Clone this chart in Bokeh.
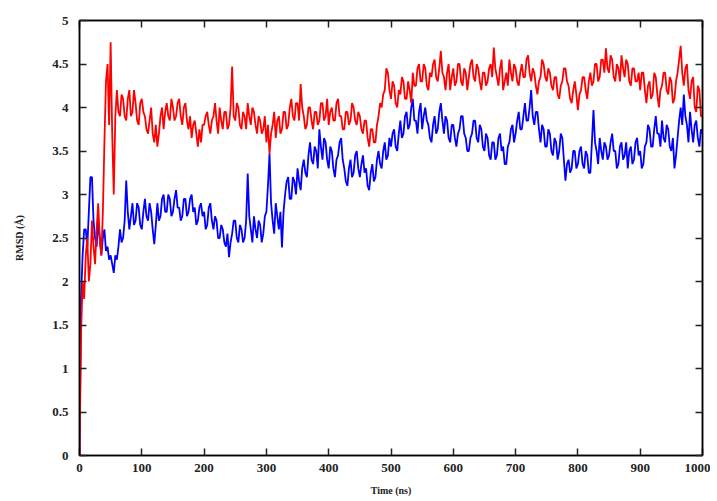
from bokeh.plotting import figure
from bokeh.models import LinearAxis, FixedTicker, CustomJSTickFormatter, Range1d
from bokeh.embed import file_html
from bokeh.resources import INLINE

# time axis (ns), sampled every 2.5 ns
time_ns = [i * 2.5 for i in range(401)]

# red trajectory RMSD (Å)
rmsd_red = [
    0.0, 1.4, 2.0, 1.8, 2.3, 2.5, 2.0, 2.2, 2.7, 2.4, 2.2, 2.6, 2.9, 2.5, 2.3, 2.8, 3.6, 4.3, 4.5, 3.8,
    4.75, 3.7, 3.0, 3.9, 4.2, 3.95, 3.9, 4.15, 4.1, 3.9, 3.85, 4.1, 4.2, 3.9, 3.95, 4.2, 4.05, 3.85, 3.8, 4.05,
    4.1, 3.95, 3.9, 3.75, 3.7, 3.85, 4.0, 3.7, 3.6, 3.8, 3.55, 3.7, 3.9, 4.0, 3.75, 3.95, 4.05, 3.9, 3.85, 4.1,
    4.0, 3.85, 3.9, 4.05, 4.1, 3.9, 3.8, 4.0, 4.05, 3.85, 3.75, 3.9, 3.65, 3.8, 3.85, 3.7, 3.55, 3.75, 3.6, 3.8,
    3.8, 3.9, 3.95, 3.8, 3.7, 3.85, 3.9, 4.05, 3.85, 3.7, 4.0, 3.85, 3.75, 3.95, 3.95, 3.75, 3.8, 4.0, 4.47, 3.9,
    3.85, 4.05, 4.0, 3.8, 3.75, 3.95, 3.9, 3.75, 4.05, 3.9, 3.8, 4.0, 3.95, 3.8, 3.7, 3.9, 3.85, 3.7, 3.75, 3.9,
    3.6, 3.8, 3.47, 3.7, 3.8, 3.95, 3.65, 3.85, 3.9, 3.7, 3.75, 3.95, 3.95, 3.75, 3.8, 4.0, 4.1, 3.9, 3.85, 4.05,
    4.05, 3.85, 4.27, 4.0, 3.9, 3.75, 3.8, 4.0, 4.0, 3.85, 3.75, 3.95, 3.95, 3.8, 3.85, 4.05, 4.05, 3.85, 3.9, 4.1,
    3.8, 3.95, 4.0, 3.85, 3.85, 4.05, 4.1, 3.9, 3.9, 3.75, 3.75, 3.95, 3.95, 3.8, 3.85, 4.05, 4.0, 3.85, 3.8, 3.95,
    3.9, 3.75, 3.7, 3.85, 3.85, 3.65, 3.55, 3.75, 3.75, 3.6, 3.6, 3.8, 3.9, 4.05, 4.0, 4.15, 4.2, 4.45, 4.4, 4.2,
    4.1, 4.3, 4.25, 4.05, 4.0, 4.2, 4.15, 4.35, 4.3, 4.1, 4.1, 4.3, 4.2, 4.05, 4.4, 4.25, 4.25, 4.45, 4.5, 4.3,
    4.3, 4.5, 4.45, 4.25, 4.2, 4.4, 4.35, 4.5, 4.55, 4.35, 4.3, 4.45, 4.65, 4.4, 4.35, 4.2, 4.4, 4.5, 4.2, 4.35,
    4.45, 4.25, 4.3, 4.5, 4.5, 4.3, 4.25, 4.45, 4.4, 4.2, 4.35, 4.5, 4.55, 4.35, 4.3, 4.5, 4.45, 4.3, 4.2, 4.4,
    4.4, 4.25, 4.3, 4.45, 4.5, 4.35, 4.69, 4.45, 4.35, 4.25, 4.45, 4.55, 4.2, 4.3, 4.4, 4.25, 4.55, 4.4, 4.3, 4.5,
    4.45, 4.3, 4.25, 4.4, 4.5, 4.35, 4.35, 4.55, 4.6, 4.4, 4.3, 4.45, 4.4, 4.25, 4.15, 4.3, 4.35, 4.55, 4.5, 4.35,
    4.3, 4.45, 4.4, 4.25, 4.2, 4.35, 4.35, 4.15, 4.1, 4.25, 4.3, 4.45, 4.45, 4.3, 4.25, 4.1, 4.05, 4.2, 4.3, 4.15,
    3.97, 4.15, 4.2, 4.35, 4.35, 4.2, 4.1, 4.3, 4.4, 4.25, 4.3, 4.5, 4.5, 4.3, 4.35, 4.55, 4.55, 4.4, 4.68, 4.45,
    4.4, 4.6, 4.55, 4.35, 4.3, 4.5, 4.45, 4.3, 4.6, 4.45, 4.35, 4.55, 4.5, 4.3, 4.25, 4.45, 4.45, 4.3, 4.3, 4.4,
    4.2, 4.4, 4.4, 4.2, 4.05, 4.25, 4.3, 4.1, 4.15, 4.4, 4.35, 4.15, 4.0, 4.2, 4.25, 4.4, 4.4, 4.2, 4.15, 4.35,
    4.3, 4.05, 4.1, 4.3, 4.4, 4.55, 4.71, 4.4, 4.25, 4.45, 4.5, 4.2, 4.1, 4.3, 4.35, 4.0, 3.95, 4.25, 4.2, 3.9,
    3.9,
]

# blue trajectory RMSD (Å)
rmsd_blue = [
    0.0, 1.8, 2.3, 2.6, 2.6, 2.4, 2.8, 3.2, 3.2, 2.7, 2.5, 2.4, 2.7, 2.5, 2.3, 2.5, 2.6, 2.35, 2.4, 2.25,
    2.3, 2.2, 2.1, 2.3, 2.25, 2.4, 2.6, 2.45, 2.5, 2.7, 3.16, 2.8, 2.6, 2.75, 2.9, 2.65, 2.7, 2.9, 2.85, 2.65,
    2.6, 2.8, 2.95, 2.75, 2.7, 2.9, 2.8, 2.6, 2.43, 2.65, 2.9, 2.7, 2.75, 2.95, 3.0, 2.8, 2.8, 3.0, 2.95, 2.75,
    2.8, 2.95, 3.05, 2.85, 2.85, 2.7, 2.75, 2.95, 2.95, 2.75, 2.8, 2.95, 3.0, 2.8, 2.85, 2.65, 2.7, 2.85, 2.9, 2.75,
    2.8, 2.6, 2.65, 2.85, 2.9, 2.7, 2.6, 2.75, 2.7, 2.5, 2.5, 2.65, 2.6, 2.45, 2.4, 2.55, 2.28, 2.45, 2.55, 2.7,
    2.7, 2.5, 2.45, 2.65, 2.6, 2.45, 2.5, 2.7, 3.24, 2.75, 2.6, 2.45, 2.75, 2.6, 2.5, 2.7, 2.65, 2.45, 2.55, 2.75,
    2.8, 3.1, 3.47, 2.9, 2.7, 2.55, 2.9, 2.75, 2.6, 2.8, 2.39, 2.8, 3.0, 3.15, 3.2, 2.95, 2.95, 3.2, 3.15, 3.0,
    3.3, 3.15, 3.05, 3.3, 3.4, 3.25, 3.2, 3.45, 3.6, 3.4, 3.35, 3.55, 3.5, 3.3, 3.75, 3.55, 3.4, 3.65, 3.6, 3.4,
    3.3, 3.55, 3.5, 3.3, 3.2, 3.4, 3.45, 3.6, 3.65, 3.4, 3.3, 3.15, 3.1, 3.3, 3.4, 3.2, 3.25, 3.45, 3.5, 3.3,
    3.2, 3.35, 3.45, 3.25, 3.3, 3.1, 3.05, 3.25, 3.35, 3.15, 3.2, 3.4, 3.5, 3.35, 3.3, 3.5, 3.6, 3.4, 3.45, 3.65,
    3.55, 3.7, 3.75, 3.55, 3.5, 3.7, 3.85, 3.65, 3.7, 3.9, 3.95, 3.75, 3.8, 4.0, 4.1, 3.85, 3.85, 3.7, 3.95, 4.05,
    3.75, 3.9, 4.0, 3.85, 3.8, 3.65, 3.6, 3.8, 3.9, 3.7, 3.75, 3.95, 4.05, 3.85, 3.7, 3.9, 3.85, 3.65, 3.6, 3.8,
    3.8, 3.65, 3.55, 3.7, 3.75, 3.9, 3.9, 3.7, 3.65, 3.5, 3.5, 3.65, 3.7, 3.85, 3.85, 3.65, 3.6, 3.8, 3.75, 3.55,
    3.5, 3.7, 3.65, 3.45, 3.4, 3.6, 3.6, 3.4, 3.45, 3.65, 3.7, 3.5, 3.55, 3.35, 3.35, 3.55, 3.6, 3.75, 3.8, 3.6,
    3.7, 3.85, 3.95, 3.75, 3.75, 3.9, 4.05, 3.85, 3.85, 4.0, 4.2, 3.9, 3.8, 3.95, 3.95, 3.75, 3.6, 3.8, 3.75, 3.55,
    3.55, 3.75, 3.7, 3.5, 3.45, 3.65, 3.6, 3.4, 3.5, 3.7, 3.65, 3.4, 3.16, 3.35, 3.4, 3.25, 3.3, 3.5, 3.5, 3.3,
    3.35, 3.5, 3.55, 3.35, 3.3, 3.5, 3.45, 3.25, 3.25, 3.6, 3.97, 3.6, 3.5, 3.35, 3.65, 3.5, 3.4, 3.6, 3.55, 3.4,
    3.45, 3.6, 3.7, 3.5, 3.5, 3.3, 3.35, 3.55, 3.6, 3.4, 3.45, 3.6, 3.3, 3.5, 3.55, 3.35, 3.4, 3.6, 3.65, 3.45,
    3.5, 3.3, 3.35, 3.55, 3.6, 3.8, 3.75, 3.55, 3.55, 3.75, 3.9, 3.7, 3.7, 3.55, 3.85, 3.65, 3.6, 3.8, 3.75, 3.55,
    3.5, 3.65, 3.3, 3.45, 3.65, 3.85, 4.0, 3.8, 4.15, 3.9, 3.8, 3.6, 3.95, 3.75, 3.6, 3.8, 3.85, 3.65, 3.55, 3.75,
    3.7,
]

x_ticks = [0, 100, 200, 300, 400, 500, 600, 700, 800, 900, 1000]
y_ticks = [0, 0.5, 1, 1.5, 2, 2.5, 3, 3.5, 4, 4.5, 5]

FONT = "Liberation Serif"

p = figure(
    frame_width=623, frame_height=435,
    min_border_left=79, min_border_top=20, min_border_right=8, min_border_bottom=40,
    x_range=Range1d(0, 1000), y_range=Range1d(0, 5),
    output_backend="svg", toolbar_location=None,
    x_axis_label="Time (ns)", y_axis_label="RMSD (Å)",
)
p.grid.visible = False
p.outline_line_color = "black"
p.outline_line_width = 1.5
p.background_fill_color = "white"
p.border_fill_color = "white"

p.line(time_ns, rmsd_blue, line_color="#0000ff", line_width=1.8)
p.line(time_ns, rmsd_red, line_color="#ff0000", line_width=1.8)

bottom = p.below[0]
left = p.left[0]
bottom.ticker = FixedTicker(ticks=x_ticks)
left.ticker = FixedTicker(ticks=y_ticks)
left.formatter = CustomJSTickFormatter(code="return String(tick);")

top = LinearAxis(ticker=FixedTicker(ticks=x_ticks))
right = LinearAxis(ticker=FixedTicker(ticks=y_ticks))
p.add_layout(top, "above")
p.add_layout(right, "right")

for ax in [bottom, left, top, right]:
    ax.major_tick_in = 7
    ax.major_tick_out = 0
    ax.minor_tick_line_color = None
    ax.major_tick_line_color = "#222222"
    ax.major_tick_line_width = 1.5
    ax.axis_line_color = "black"
    ax.axis_line_width = 1.5
    ax.major_label_text_font = FONT
    ax.major_label_text_font_style = "bold"
    ax.major_label_text_font_size = "13px"
    ax.major_label_text_color = "#222222"
    ax.axis_label_text_font = FONT
    ax.axis_label_text_font_style = "bold"
    ax.axis_label_text_color = "#222222"

for ax in [top, right]:
    ax.major_label_text_color = None
    ax.major_label_text_font_size = "0px"
    ax.major_label_standoff = 0

bottom.major_label_standoff = 8
left.major_label_standoff = 11
bottom.axis_label_text_font_size = "10px"
bottom.axis_label_standoff = 10
left.axis_label_text_font_size = "10px"
left.axis_label_standoff = 24

open("out.html", "w").write(file_html(p, INLINE))
